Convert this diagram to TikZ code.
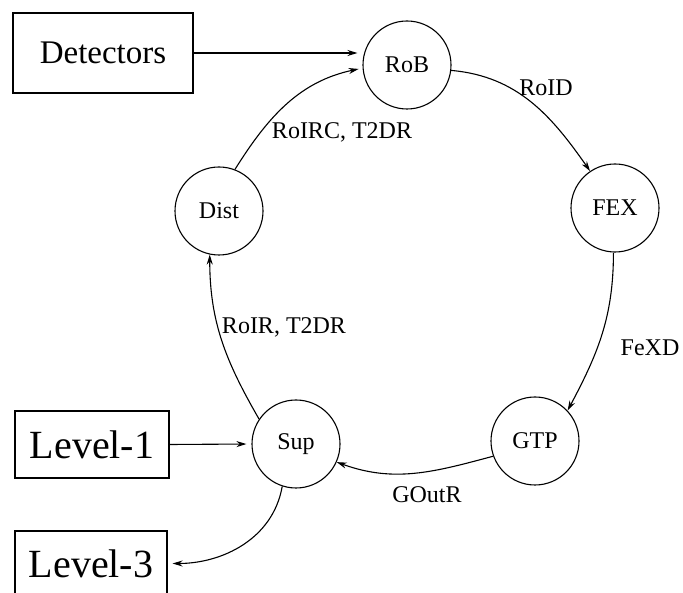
\documentclass[tikz,border=0pt]{standalone}
\usepackage{fontspec}
\setmainfont{Liberation Serif}
\usetikzlibrary{arrows.meta, positioning}

\begin{document}
\begin{tikzpicture}[x=1pt, y=1pt, line width=1.1pt,
    proc/.style={draw, circle, minimum size=88pt, inner sep=0pt, font=\fontsize{24}{28}\selectfont},
    src/.style={draw, rectangle, inner sep=0pt},
    lbl/.style={inner sep=0pt, font=\fontsize{24}{28}\selectfont},
    >={Stealth[length=10pt, width=6pt]}]
    \useasboundingbox (0,0) rectangle (683,592);
    \clip (0,0) rectangle (683,592);
    \node[proc] (rob) at (407,527) {RoB};
    \node[proc] (fex) at (615,384) {FEX};
    \node[proc] (gtp) at (535,151) {GTP};
    \node[proc] (sup) at (296,148) {Sup};
    \node[proc] (dist) at (219,381) {Dist};
    \node[src, minimum width=180pt, minimum height=80pt, font=\fontsize{33}{38}\selectfont] (det) at (103,539) {Detectors};
    \node[src, minimum width=154pt, minimum height=67pt, font=\fontsize{40}{46}\selectfont] (lvlone) at (92,147.5) {Level-1};
    \node[src, minimum width=152pt, minimum height=65pt, font=\fontsize{40}{46}\selectfont] (lvlthree) at (91,28.5) {Level-3};
    \node[lbl] (rc) at (342,460) {RoIRC, T2DR};
    \node[lbl] (roid) at (546,504) {RoID};
    \node[lbl] (fexd) at (650,244) {FeXD};
    \node[lbl] (gout) at (427,97) {GOutR};
    \node[lbl] (roir) at (284,265) {RoIR, T2DR};
    \draw[->, shorten >=5pt] (det.east) -- (det.east -| rob.west);
    \draw[->, shorten >=4pt] (dist.69) to[out=58, in=192] (rob.184);
    \draw[->] (rob.353) to[out=-5, in=125] (fex.124);
    \draw[->] (fex.268) to[out=-90, in=62] (gtp.43);
    \draw[->] (gtp.200) to[out=195, in=-20] (sup.336);
    \draw[->] (sup.146) to[out=120, in=-90] (dist.258);
    \draw[->, shorten >=5pt] (lvlone.east) -- (sup.west);
    \draw[->, shorten >=5pt] (sup.252) to[out=260, in=0] (lvlthree.east);
\end{tikzpicture}
\end{document}
